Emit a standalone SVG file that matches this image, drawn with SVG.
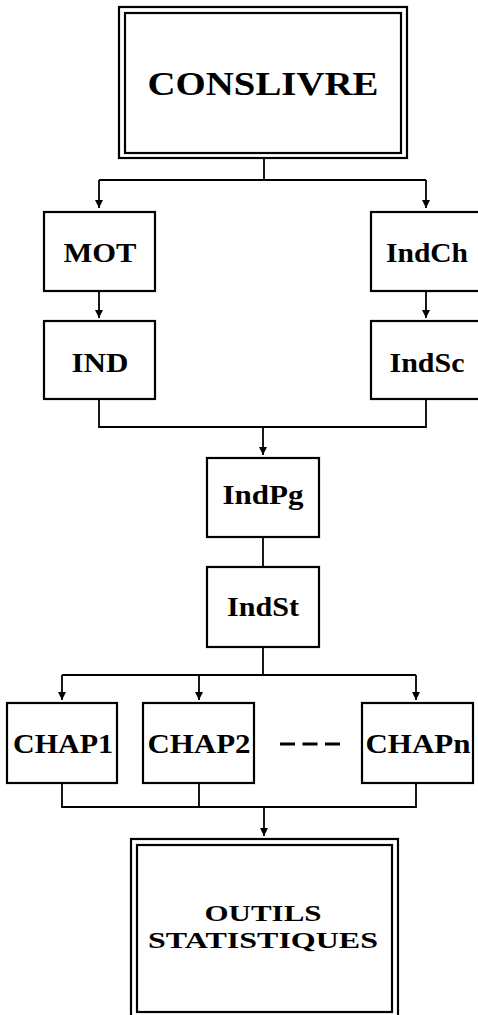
<svg xmlns="http://www.w3.org/2000/svg" width="478" height="1015" viewBox="0 0 478 1015">
<style>
.box{fill:none;stroke:#000;stroke-width:2.2}
.ln{fill:none;stroke:#000;stroke-width:1.8}
.t{font-family:"Liberation Serif","DejaVu Serif",serif;font-weight:bold;fill:#000;text-anchor:middle}
</style>
<defs>
<marker id="ah" viewBox="0 0 10 10" refX="10" refY="5" markerWidth="9" markerHeight="8" markerUnits="userSpaceOnUse" orient="auto">
<path d="M0,0 L10,5 L0,10 Z" fill="#000"/>
</marker>
</defs>
<rect width="478" height="1015" fill="#fff"/>
<g id="connectors">
<path class="ln" d="M264,158 V180 M99,180 H426"/>
<path class="ln" d="M99,180 V208" marker-end="url(#ah)"/>
<path class="ln" d="M426,180 V208" marker-end="url(#ah)"/>
<path class="ln" d="M99,291 V318" marker-end="url(#ah)"/>
<path class="ln" d="M426,291 V318" marker-end="url(#ah)"/>
<path class="ln" d="M99,399 V427 H426 V399"/>
<path class="ln" d="M263,427 V455" marker-end="url(#ah)"/>
<path class="ln" d="M263,537 V567"/>
<path class="ln" d="M263,647 V675 M62,675 H416"/>
<path class="ln" d="M62,675 V700" marker-end="url(#ah)"/>
<path class="ln" d="M199,675 V700" marker-end="url(#ah)"/>
<path class="ln" d="M416,675 V700" marker-end="url(#ah)"/>
<path class="ln" d="M62,783 V807 H416 V783 M199,783 V807"/>
<path class="ln" d="M264,807 V836" marker-end="url(#ah)"/>
<path d="M280,744 H341" stroke="#000" stroke-width="3" stroke-dasharray="15,7.5" fill="none"/>
</g>
<g id="conslivre">
<rect class="box" x="119" y="7" width="288" height="151"/>
<rect class="box" x="125" y="13" width="276" height="140"/>
<text class="t" x="263" y="95" font-size="33" textLength="231" lengthAdjust="spacingAndGlyphs">CONSLIVRE</text>
</g>
<g id="mot">
<rect class="box" x="44" y="212" width="111" height="79"/>
<text class="t" x="100" y="262" font-size="27" textLength="73" lengthAdjust="spacingAndGlyphs">MOT</text>
</g>
<g id="indch">
<rect class="box" x="371" y="212" width="110" height="79"/>
<text class="t" x="427" y="262" font-size="27" textLength="82" lengthAdjust="spacingAndGlyphs">IndCh</text>
</g>
<g id="ind">
<rect class="box" x="44" y="321" width="111" height="78"/>
<text class="t" x="100" y="372" font-size="27" textLength="57" lengthAdjust="spacingAndGlyphs">IND</text>
</g>
<g id="indsc">
<rect class="box" x="371" y="321" width="110" height="78"/>
<text class="t" x="427" y="372" font-size="27" textLength="75" lengthAdjust="spacingAndGlyphs">IndSc</text>
</g>
<g id="indpg">
<rect class="box" x="207" y="458" width="112" height="79"/>
<text class="t" x="263" y="504" font-size="27" textLength="81" lengthAdjust="spacingAndGlyphs">IndPg</text>
</g>
<g id="indst">
<rect class="box" x="207" y="567" width="112" height="80"/>
<text class="t" x="263" y="616" font-size="27" textLength="72" lengthAdjust="spacingAndGlyphs">IndSt</text>
</g>
<g id="chap1">
<rect class="box" x="7" y="703" width="110" height="80"/>
<text class="t" x="63" y="753" font-size="27" textLength="100" lengthAdjust="spacingAndGlyphs">CHAP1</text>
</g>
<g id="chap2">
<rect class="box" x="143" y="703" width="111" height="80"/>
<text class="t" x="199" y="753" font-size="27" textLength="103" lengthAdjust="spacingAndGlyphs">CHAP2</text>
</g>
<g id="chapn">
<rect class="box" x="362" y="703" width="111" height="80"/>
<text class="t" x="418" y="753" font-size="27" textLength="105" lengthAdjust="spacingAndGlyphs">CHAPn</text>
</g>
<g id="outils">
<rect class="box" x="131" y="839" width="267" height="185"/>
<rect class="box" x="137" y="845" width="255" height="167"/>
<text class="t" x="263" y="921" font-size="24" textLength="117" lengthAdjust="spacingAndGlyphs">OUTILS</text>
<text class="t" x="263" y="948" font-size="24" textLength="230" lengthAdjust="spacingAndGlyphs">STATISTIQUES</text>
</g>
</svg>
